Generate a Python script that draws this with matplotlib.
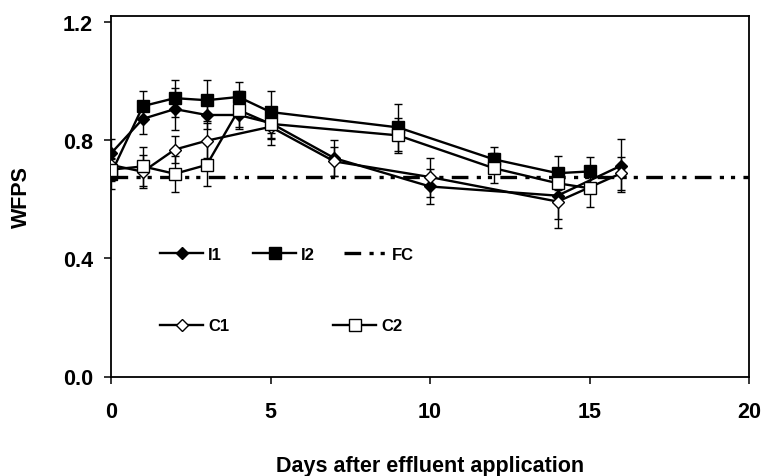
import matplotlib
matplotlib.use("Agg")
import matplotlib.pyplot as plt

plt.rcParams['font.family'] = ['Liberation Sans', 'DejaVu Sans']
plt.rcParams['font.weight'] = 'bold'
plt.rcParams['lines.scale_dashes'] = False

# ---- data ----
i1_days = [0, 1, 2, 3, 4, 5, 7, 10, 14, 16]
i1_vals = [0.755, 0.872, 0.905, 0.885, 0.885, 0.858, 0.739, 0.643, 0.612, 0.714]
i1_err = [0.05, 0.05, 0.07, 0.048, 0.04, 0.05, 0.06, 0.06, 0.08, 0.09]

i2_days = [0, 1, 2, 3, 4, 5, 9, 12, 14, 15]
i2_vals = [0.686, 0.915, 0.942, 0.935, 0.946, 0.895, 0.843, 0.735, 0.688, 0.694]
i2_err = [0.05, 0.05, 0.063, 0.07, 0.05, 0.07, 0.08, 0.04, 0.057, 0.05]

c1_days = [0, 1, 2, 3, 5, 7, 10, 14, 16]
c1_vals = [0.716, 0.693, 0.768, 0.798, 0.845, 0.728, 0.675, 0.592, 0.688]
c1_err = [0.04, 0.056, 0.047, 0.06, 0.06, 0.05, 0.066, 0.09, 0.056]

c2_days = [0, 1, 2, 3, 4, 5, 9, 12, 14, 15]
c2_vals = [0.700, 0.711, 0.686, 0.716, 0.902, 0.855, 0.816, 0.705, 0.654, 0.637]
c2_err = [0.04, 0.065, 0.06, 0.073, 0.063, 0.05, 0.06, 0.05, 0.05, 0.065]

fc_value = 0.674
fc_x = [0, 20]

series_labels = ['I1', 'I2', 'FC', 'C1', 'C2']
x_ticks = [0, 5, 10, 15, 20]
y_ticks = [0.0, 0.4, 0.8, 1.2]
y_tick_labels = ['0.0', '0.4', '0.8', '1.2']

# ---- figure ----
fig = plt.figure(figsize=(7.63, 4.77), dpi=100)
ax = fig.add_axes([111 / 763, (477 - 377.5) / 477, 638 / 763, (377.5 - 17) / 477])

line_kw = dict(color='black', lw=1.7, zorder=3)
err_kw = dict(fmt='none', ecolor='black', elinewidth=1.0, capsize=2.6, capthick=1.0, zorder=2)

ax.errorbar(i1_days, i1_vals, yerr=i1_err, **err_kw)
ax.errorbar(i2_days, i2_vals, yerr=i2_err, **err_kw)
ax.errorbar(c1_days, c1_vals, yerr=c1_err, **err_kw)
ax.errorbar(c2_days, c2_vals, yerr=c2_err, **err_kw)

h_i1, = ax.plot(i1_days, i1_vals, marker='D', ms=6.6, mfc='black', mec='black', mew=1.0, **line_kw)
h_i2, = ax.plot(i2_days, i2_vals, marker='s', ms=9.2, mfc='black', mec='black', mew=1.0, **line_kw)
h_c1, = ax.plot(c1_days, c1_vals, marker='D', ms=6.6, mfc='white', mec='black', mew=1.0, **line_kw)
h_c2, = ax.plot(c2_days, c2_vals, marker='s', ms=9.2, mfc='white', mec='black', mew=1.0, **line_kw)
h_fc, = ax.plot(fc_x, [fc_value, fc_value], color='black', lw=2.4,
                dashes=(12, 6, 3, 5, 3, 6), zorder=1)

ax.set_xlim(0, 20)
ax.set_ylim(0, 1.22)
ax.set_xticks(x_ticks)
ax.set_xticklabels([str(t) for t in x_ticks])
ax.set_yticks(y_ticks)
ax.set_yticklabels(y_tick_labels)
ax.tick_params(axis='both', direction='out', length=5, width=1.1, labelsize=15.5)
ax.tick_params(axis='x', pad=12.5)
ax.tick_params(axis='y', pad=8)
for s in ax.spines.values():
    s.set_linewidth(1.3)

ax.set_xlabel('Days after effluent application', fontsize=15.5, fontweight='bold')
ax.xaxis.set_label_coords(0.5, (377.5 - 456) / 360.5)
ax.set_ylabel('WFPS', fontsize=15.5, fontweight='bold', va='center', rotation_mode='default')
ax.yaxis.set_label_coords((21 - 111) / 638, (377.5 - 197) / 360.5)

# ---- legend entries placed individually ----
handles = [h_i1, h_i2, h_fc, h_c1, h_c2]
starts = [(160, 255), (253, 255), (344, 255), (160, 327), (333, 327)]
leg_fs = 12
for h, lab, (px, py) in zip(handles, series_labels, starts):
    fig.legend([h], [lab], loc='center left',
               bbox_to_anchor=(px / 763, 1 - py / 477),
               bbox_transform=fig.transFigure,
               frameon=False, borderpad=0, borderaxespad=0,
               handlelength=43 / (leg_fs * 100 / 72), handletextpad=0.3,
               numpoints=1, prop={'size': leg_fs, 'weight': 'bold'})

fig.savefig('out.png', dpi=100)
